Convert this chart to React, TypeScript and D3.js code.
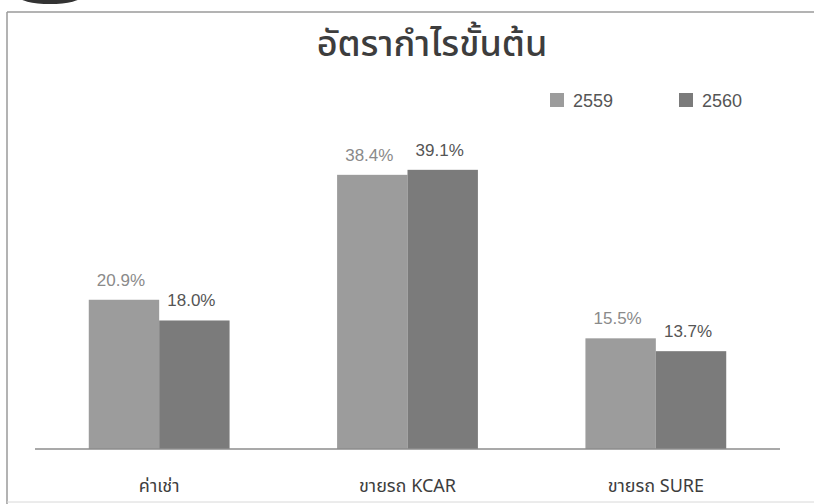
import React from "react";
import * as d3 from "d3";

const categories = ["ค่าเช่า", "ขายรถ KCAR", "ขายรถ SURE"];
const seriesNames = ["2559", "2560"];
const values2559 = [20.9, 38.4, 15.5];
const values2560 = [18.0, 39.1, 13.7];
const title = "อัตรากำไรขั้นต้น";

const W = 814;
const H = 504;
const barColors = ["#9c9c9c", "#7b7b7b"];
const labelColors = ["#8a8a8a", "#555555"];
const thaiFont = "'Noto Sans Thai', 'Noto Sans Thai UI', Tahoma, 'Noto Sans', 'DejaVu Sans', sans-serif";
const numFont = "'Liberation Sans', Arial, sans-serif";

export default function App() {
  const baseline = 449;
  const x0 = d3.scaleBand<string>().domain(categories).range([35, 780]).paddingInner(0.433).paddingOuter(0.2165);
  const x1 = d3.scaleBand<string>().domain(seriesNames).range([0, x0.bandwidth()]).padding(0);
  const y = d3.scaleLinear().domain([0, 45]).range([baseline, baseline - 45 * 7.14]);
  const series = [values2559, values2560];

  return (
    <svg width={W} height={H} style={{ position: "absolute", left: 0, top: 0, background: "#fff" }}>
      <rect x={0} y={0} width={W} height={H} fill="#ffffff" />
      {/* logo fragment */}
      <ellipse cx={50} cy={-4} rx={32} ry={8} fill="#333" />
      {/* frame */}
      <line x1={7} y1={12} x2={W} y2={12} stroke="#9a9a9a" strokeWidth={1.5} />
      <line x1={7} y1={12} x2={7} y2={H} stroke="#9a9a9a" strokeWidth={1.5} />
      <line x1={7} y1={502} x2={W} y2={502} stroke="#d8d8d8" strokeWidth={1} />
      <text x={432} y={56} textAnchor="middle" fontFamily={thaiFont} fontSize={36} fontWeight={500} fill="#3d3d3d">
        {title}
      </text>
      {/* legend */}
      {seriesNames.map((s, i) => (
        <g key={s} transform={`translate(${550 + i * 129},93)`}>
          <rect x={0} y={0} width={14} height={14} fill={barColors[i]} />
          <text x={23} y={14} fontFamily={numFont} fontSize={18} fill="#555">
            {s}
          </text>
        </g>
      ))}
      {/* bars */}
      {categories.map((c, ci) => (
        <g key={c} transform={`translate(${x0(c)},0)`}>
          {seriesNames.map((s, si) => {
            const v = series[si][ci];
            return (
              <g key={s}>
                <rect x={x1(s)} y={y(v)} width={x1.bandwidth()} height={baseline - y(v)} fill={barColors[si]} />
                <text
                  x={(x1(s) as number) + x1.bandwidth() / 2 - 3}
                  y={y(v) - 14}
                  textAnchor="middle"
                  fontFamily={numFont}
                  fontSize={17}
                  fill={labelColors[si]}
                >
                  {v.toFixed(1) + "%"}
                </text>
              </g>
            );
          })}
        </g>
      ))}
      <line x1={35} y1={baseline} x2={780} y2={baseline} stroke="#8c8c8c" strokeWidth={1.5} />
      {categories.map((c) => (
        <text
          key={c}
          x={(x0(c) as number) + x0.bandwidth() / 2}
          y={492}
          textAnchor="middle"
          fontFamily={thaiFont}
          fontSize={18}
          fill="#3d3d3d"
        >
          {c}
        </text>
      ))}
    </svg>
  );
}
